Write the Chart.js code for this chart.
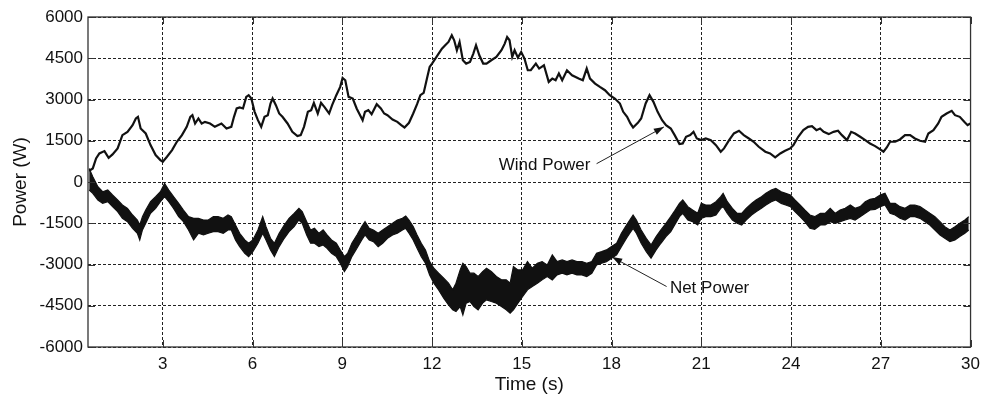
<!DOCTYPE html>
<html>
<head>
<meta charset="utf-8">
<script src="https://cdn.jsdelivr.net/npm/chart.js@4.4.0/dist/chart.umd.min.js"></script>
<style>
  html, body { margin: 0; padding: 0; background: #fff; }
  #wrap { width: 987px; height: 398px; }
</style>
</head>
<body>
<div id="wrap"><canvas id="powerChart" width="987" height="398"></canvas></div>
<script>
// tick labels
var timeTicks = [3, 6, 9, 12, 15, 18, 21, 24, 27, 30];
var powerTicks = [-6000, -4500, -3000, -1500, 0, 1500, 3000, 4500, 6000];

// wind power (s, W)
var windTime = [0.54, 0.66, 0.77, 0.88, 1.05, 1.19, 1.32, 1.49, 1.65, 1.82, 1.99, 2.1, 2.17, 2.26, 2.43, 2.59, 2.76, 2.92, 3.0, 3.14,
  3.31, 3.47, 3.64, 3.8, 3.92, 3.99, 4.08, 4.19, 4.3, 4.41, 4.58, 4.74, 4.96, 5.13, 5.29, 5.38, 5.47, 5.57, 5.68, 5.79,
  5.87, 5.96, 6.07, 6.18, 6.29, 6.4, 6.51, 6.6, 6.67, 6.78, 6.89, 7.0, 7.17, 7.33, 7.5, 7.61, 7.72, 7.85, 7.96, 8.05,
  8.18, 8.29, 8.4, 8.56, 8.66, 8.8, 8.93, 9.01, 9.1, 9.21, 9.35, 9.48, 9.68, 9.76, 9.87, 9.98, 10.15, 10.29, 10.4, 10.51,
  10.68, 10.84, 10.97, 11.08, 11.23, 11.37, 11.5, 11.61, 11.72, 11.83, 11.92, 12.0, 12.11, 12.22, 12.33, 12.44, 12.55, 12.66, 12.74, 12.83,
  12.92, 13.03, 13.14, 13.27, 13.38, 13.47, 13.58, 13.71, 13.82, 13.98, 14.15, 14.32, 14.43, 14.51, 14.59, 14.68, 14.76, 14.87, 14.98, 15.09,
  15.2, 15.3, 15.47, 15.58, 15.74, 15.9, 16.02, 16.13, 16.24, 16.35, 16.51, 16.68, 16.9, 17.04, 17.17, 17.28, 17.45, 17.61, 17.78, 17.94,
  18.11, 18.28, 18.39, 18.52, 18.63, 18.72, 18.88, 18.99, 19.14, 19.27, 19.4, 19.54, 19.69, 19.82, 19.98, 20.11, 20.27, 20.38, 20.49, 20.63,
  20.74, 20.85, 21.0, 21.15, 21.32, 21.49, 21.65, 21.76, 21.93, 22.09, 22.26, 22.42, 22.59, 22.75, 22.92, 23.14, 23.3, 23.47, 23.64, 23.8,
  23.97, 24.08, 24.24, 24.41, 24.57, 24.7, 24.85, 24.97, 25.09, 25.26, 25.42, 25.57, 25.7, 25.87, 26.01, 26.14, 26.31, 26.48, 26.64, 26.81,
  26.98, 27.09, 27.2, 27.31, 27.48, 27.64, 27.81, 27.98, 28.14, 28.31, 28.48, 28.59, 28.76, 28.92, 29.03, 29.2, 29.37, 29.48, 29.64, 29.79,
  29.9, 29.99];
var windPower = [410, 494, 857, 1039, 1124, 882, 1003, 1220, 1704, 1825, 2067, 2310, 2370, 1946, 1765, 1342, 979, 797, 737, 918,
  1160, 1463, 1704, 2007, 2370, 2430, 2128, 2310, 2128, 2188, 2128, 2007, 2128, 1946, 2007, 2370, 2673, 2709, 2673, 3096,
  3157, 3036, 2552, 2249, 2007, 2370, 2430, 2854, 3036, 2794, 2491, 2370, 2128, 1825, 1668, 1704, 2007, 2552, 2612, 2878,
  2491, 2878, 2733, 2491, 2794, 3157, 3459, 3786, 3701, 3096, 3036, 2673, 2249, 2552, 2612, 2467, 2830, 2673, 2491, 2430,
  2273, 2188, 2067, 1983, 2152, 2491, 2830, 3157, 3241, 3761, 4185, 4306, 4488, 4669, 4850, 4972, 5093, 5335, 5153, 4790,
  5093, 4427, 4306, 4367, 4669, 4972, 4609, 4306, 4306, 4427, 4548, 4790, 5032, 5274, 5153, 4548, 4790, 4524, 4729, 4488,
  4064, 4064, 4306, 4125, 4246, 3640, 3761, 3701, 3943, 3701, 4064, 3882, 3761, 3701, 4125, 3761, 3580, 3459, 3338, 3157,
  3036, 2854, 2552, 2370, 2128, 1983, 2152, 2310, 2854, 3157, 2915, 2552, 2249, 2067, 1946, 1704, 1378, 1402, 1644, 1704,
  1825, 1583, 1523, 1583, 1523, 1342, 1100, 1221, 1523, 1765, 1862, 1704, 1583, 1463, 1281, 1100, 1039, 894, 1039, 1136,
  1221, 1342, 1644, 1886, 2007, 2031, 1886, 1946, 1825, 1741, 1825, 1862, 1704, 1523, 1825, 1765, 1644, 1523, 1402, 1305,
  1184, 1100, 1257, 1463, 1463, 1547, 1704, 1704, 1583, 1499, 1463, 1765, 1886, 2128, 2370, 2491, 2588, 2430, 2370, 2188,
  2067, 2128];

// net power: upper and lower edge of the noisy band (s, W)
var netTime = [0.54, 0.66, 0.83, 0.99, 1.16, 1.32, 1.49, 1.65, 1.82, 1.99, 2.15, 2.23, 2.32, 2.43, 2.59, 2.76, 2.92, 3.06, 3.2, 3.36,
  3.53, 3.69, 3.86, 4.03, 4.19, 4.36, 4.52, 4.69, 4.85, 5.02, 5.18, 5.29, 5.43, 5.57, 5.74, 5.87, 6.01, 6.18, 6.34, 6.45,
  6.6, 6.73, 6.89, 7.06, 7.22, 7.39, 7.55, 7.66, 7.81, 7.94, 8.07, 8.22, 8.36, 8.49, 8.64, 8.8, 8.93, 9.07, 9.18, 9.32,
  9.49, 9.65, 9.76, 9.9, 10.04, 10.2, 10.35, 10.51, 10.68, 10.84, 11.01, 11.12, 11.23, 11.37, 11.5, 11.64, 11.78, 11.92, 12.06, 12.22,
  12.39, 12.55, 12.69, 12.8, 12.94, 13.03, 13.14, 13.27, 13.4, 13.54, 13.69, 13.82, 13.98, 14.15, 14.32, 14.48, 14.61, 14.72, 14.87, 15.03,
  15.19, 15.35, 15.52, 15.68, 15.85, 16.02, 16.18, 16.35, 16.51, 16.68, 16.84, 17.01, 17.17, 17.34, 17.5, 17.67, 17.83, 18.0, 18.17, 18.33,
  18.5, 18.61, 18.72, 18.83, 18.99, 19.16, 19.32, 19.49, 19.65, 19.82, 19.98, 20.11, 20.27, 20.38, 20.55, 20.71, 20.88, 21.0, 21.15, 21.32,
  21.49, 21.65, 21.73, 21.87, 22.04, 22.2, 22.35, 22.5, 22.68, 22.83, 23.01, 23.16, 23.34, 23.49, 23.67, 23.82, 23.98, 24.13, 24.3, 24.46,
  24.63, 24.79, 24.98, 25.14, 25.31, 25.48, 25.64, 25.81, 25.98, 26.14, 26.31, 26.48, 26.64, 26.81, 26.98, 27.14, 27.31, 27.48, 27.64, 27.81,
  27.98, 28.14, 28.31, 28.48, 28.64, 28.81, 28.98, 29.14, 29.31, 29.48, 29.64, 29.81, 29.94];
var netUpper = [494, 192, -171, -353, -292, -474, -655, -837, -958, -1200, -1381, -1563, -1260, -1018, -716, -534, -353, -50, -292, -534,
  -776, -1018, -1260, -1321, -1321, -1381, -1381, -1260, -1260, -1321, -1200, -1260, -1563, -1865, -2107, -2228, -2107, -1744, -1260, -1623,
  -2047, -2228, -1865, -1563, -1321, -1139, -958, -1079, -1442, -1744, -1684, -1865, -1744, -1926, -2107, -2228, -2470, -2712, -2591, -2228,
  -1926, -1623, -1442, -1684, -1744, -1865, -1744, -1623, -1502, -1381, -1321, -1236, -1381, -1623, -1926, -2228, -2470, -2894, -3136, -3317,
  -3499, -3680, -3922, -3680, -3196, -2954, -3075, -3317, -3317, -3438, -3257, -3136, -3257, -3438, -3559, -3559, -3680, -3075, -3196, -3196,
  -2894, -3136, -2954, -2894, -3015, -2652, -2894, -2833, -2894, -2833, -2894, -2894, -2954, -2894, -2591, -2531, -2470, -2349, -2228, -1865,
  -1563, -1381, -1200, -1381, -1744, -2047, -2289, -1986, -1744, -1502, -1260, -1050, -776, -655, -897, -1018, -1139, -776, -837, -837,
  -716, -534, -413, -716, -958, -1139, -1139, -958, -776, -655, -534, -413, -292, -232, -353, -413, -474, -655, -837, -1018,
  -1200, -1260, -1139, -1139, -958, -1139, -1018, -958, -837, -958, -897, -716, -631, -595, -474, -413, -776, -776, -897, -958,
  -837, -837, -897, -1018, -1139, -1260, -1442, -1623, -1744, -1623, -1502, -1381, -1260];
var netLower = [-292, -413, -655, -776, -716, -897, -1079, -1321, -1442, -1684, -1865, -2107, -1744, -1502, -1139, -958, -716, -534, -716, -958,
  -1260, -1442, -1744, -2107, -1865, -1926, -1865, -1805, -1805, -1865, -1744, -1744, -2107, -2349, -2591, -2712, -2531, -2228, -1865, -2107,
  -2470, -2712, -2349, -2047, -1805, -1623, -1381, -1502, -1926, -2228, -2228, -2349, -2289, -2410, -2591, -2712, -2954, -3257, -3075, -2712,
  -2410, -2107, -1926, -2107, -2168, -2349, -2228, -2047, -1926, -1865, -1744, -1684, -1865, -2107, -2410, -2712, -2954, -3378, -3680, -3922,
  -4225, -4467, -4648, -4709, -4527, -4830, -4406, -4346, -4527, -4648, -4406, -4285, -4346, -4406, -4527, -4648, -4769, -4648, -4406, -4164,
  -3922, -3801, -3680, -3559, -3438, -3559, -3378, -3317, -3378, -3317, -3378, -3378, -3438, -3317, -3015, -2954, -2894, -2773, -2652, -2349,
  -2047, -1865, -1684, -1865, -2228, -2531, -2773, -2470, -2228, -1986, -1805, -1560, -1260, -1139, -1381, -1442, -1563, -1321, -1260, -1260,
  -1200, -958, -897, -1139, -1381, -1502, -1563, -1381, -1200, -1079, -958, -837, -716, -655, -776, -837, -897, -1079, -1260, -1442,
  -1684, -1720, -1563, -1563, -1442, -1502, -1442, -1381, -1321, -1381, -1260, -1139, -1018, -994, -897, -837, -1139, -1200, -1321, -1381,
  -1260, -1260, -1321, -1442, -1563, -1744, -1926, -2047, -2168, -2107, -1986, -1865, -1744];

// arrow labels, placed in data units
var callouts = [
  { text: 'Wind Power', at: [14.23, 619], from: [17.5, 666], to: [19.75, 2002] },
  { text: 'Net Power', at: [19.95, -3858], from: [19.84, -3800], to: [18.02, -2730] }
];

function points(xs, ys) {
  return xs.map(function (t, i) { return { x: t, y: ys[i] }; });
}

var ink = '#111';
var fontFamily = '"Liberation Sans", Arial, sans-serif';

var framePlugin = {
  id: 'frame',
  afterDraw: function (chart) {
    var ctx = chart.ctx, a = chart.chartArea, xs = chart.scales.x, ys = chart.scales.y;
    ctx.save();
    ctx.setLineDash([]);
    ctx.strokeStyle = '#333';
    ctx.lineWidth = 1.3;
    ctx.strokeRect(a.left, a.top, a.right - a.left, a.bottom - a.top);
    ctx.lineWidth = 1;
    ctx.beginPath();
    timeTicks.forEach(function (v) {
      var px = Math.round(xs.getPixelForValue(v)) + 0.5;
      ctx.moveTo(px, a.bottom); ctx.lineTo(px, a.bottom - 7);
      ctx.moveTo(px, a.top); ctx.lineTo(px, a.top + 7);
    });
    powerTicks.forEach(function (v) {
      var py = Math.round(ys.getPixelForValue(v)) + 0.5;
      ctx.moveTo(a.left, py); ctx.lineTo(a.left + 7, py);
      ctx.moveTo(a.right, py); ctx.lineTo(a.right - 7, py);
    });
    ctx.stroke();

    // callouts
    ctx.fillStyle = '#111';
    ctx.strokeStyle = '#222';
    ctx.font = '17px ' + fontFamily;
    ctx.textBaseline = 'middle';
    callouts.forEach(function (c) {
      ctx.fillText(c.text, xs.getPixelForValue(c.at[0]), ys.getPixelForValue(c.at[1]));
      var x0 = xs.getPixelForValue(c.from[0]), y0 = ys.getPixelForValue(c.from[1]);
      var x1 = xs.getPixelForValue(c.to[0]), y1 = ys.getPixelForValue(c.to[1]);
      ctx.beginPath(); ctx.moveTo(x0, y0); ctx.lineTo(x1, y1); ctx.stroke();
      var ang = Math.atan2(y1 - y0, x1 - x0);
      ctx.beginPath();
      ctx.moveTo(x1, y1);
      ctx.lineTo(x1 - 10 * Math.cos(ang) + 3.5 * Math.sin(ang), y1 - 10 * Math.sin(ang) - 3.5 * Math.cos(ang));
      ctx.lineTo(x1 - 10 * Math.cos(ang) - 3.5 * Math.sin(ang), y1 - 10 * Math.sin(ang) + 3.5 * Math.cos(ang));
      ctx.closePath();
      ctx.fill();
    });
    ctx.restore();
  }
};

var ctx = document.getElementById('powerChart').getContext('2d');
var powerChart = new Chart(ctx, {
  type: 'line',
  data: {
    datasets: [{
      label: 'Net Power (upper)',
      data: points(netTime, netUpper),
      borderColor: ink,
      borderWidth: 1.2,
      backgroundColor: ink,
      pointRadius: 0,
      tension: 0,
      fill: '+1'
    }, {
      label: 'Net Power (lower)',
      data: points(netTime, netLower),
      borderColor: ink,
      borderWidth: 1.2,
      pointRadius: 0,
      tension: 0,
      fill: false
    }, {
      label: 'Wind Power',
      data: points(windTime, windPower),
      borderColor: ink,
      borderWidth: 2.2,
      pointRadius: 0,
      tension: 0,
      fill: false
    }]
  },
  options: {
    responsive: false,
    animation: false,
    layout: { padding: { left: 0, top: 17, right: 11, bottom: 0 } },
    plugins: {
      legend: { display: false },
      tooltip: { enabled: false }
    },
    scales: {
      x: {
        type: 'linear',
        min: 0.5,
        max: 30,
        afterBuildTicks: function (scale) {
          scale.ticks = timeTicks.map(function (v) { return { value: v }; });
        },
        afterFit: function (scale) { scale.height = 51; },
        grid: { color: '#222', lineWidth: 1, drawTicks: false },
        border: { display: false, dash: [3, 2] },
        ticks: { color: '#111', padding: 7, font: { family: fontFamily, size: 17 }, maxRotation: 0,
          callback: function (v) { return String(v); } },
        title: { display: true, text: 'Time (s)', color: '#111', font: { family: fontFamily, size: 19 }, padding: { top: 0, bottom: 2 } }
      },
      y: {
        min: -6000,
        max: 6000,
        afterBuildTicks: function (scale) {
          scale.ticks = powerTicks.map(function (v) { return { value: v }; });
        },
        afterFit: function (scale) { scale.width = 88; },
        grid: { color: '#222', lineWidth: 1, drawTicks: false },
        border: { display: false, dash: [3, 2] },
        ticks: { color: '#111', padding: 5, font: { family: fontFamily, size: 17 },
          callback: function (v) { return String(v); } },
        title: { display: true, text: 'Power (W)', color: '#111', font: { family: fontFamily, size: 19 }, padding: { top: 9, bottom: 0 } }
      }
    }
  },
  plugins: [framePlugin]
});
</script>
</body>
</html>
